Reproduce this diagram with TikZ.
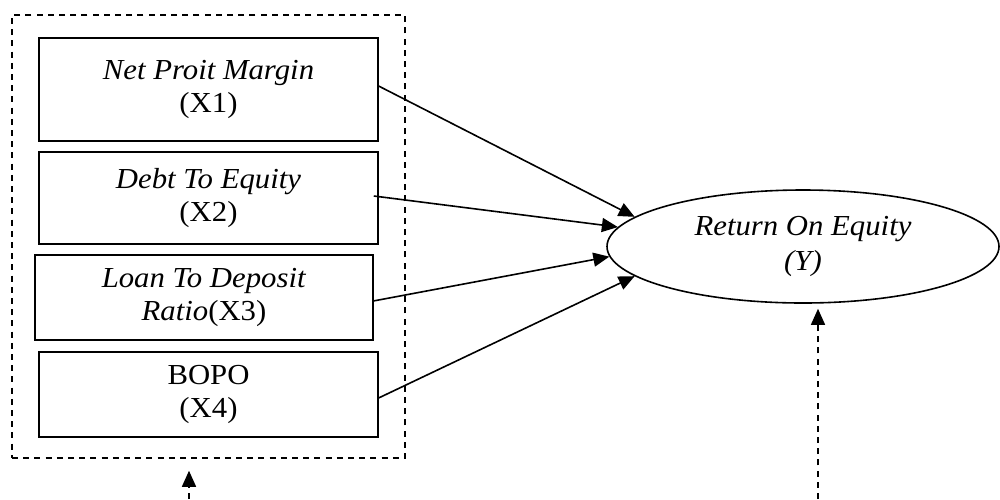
\documentclass[tikz,border=0pt]{standalone}
\usepackage{fontspec}
\setmainfont[FakeStretch=1.06]{Liberation Serif}
\usetikzlibrary{arrows.meta,shapes.geometric}

\begin{document}
\begin{tikzpicture}[x=0.5pt,y=-0.5pt,
    font=\fontsize{14.5}{16.5}\selectfont,
    varbox/.style={draw,line width=0.8pt,align=center,inner sep=0pt,minimum width=169.5pt},
    tip/.style={-{Triangle[length=8pt,width=7pt]},line width=0.8pt},
    dashline/.style={line width=0.75pt,dash pattern=on 3pt off 2.6pt}]
\useasboundingbox (0,0) rectangle (1000,499);

\node[dashline,draw,minimum width=196.5pt,minimum height=221.5pt,inner sep=0pt] (frame) at (208.5,236.5) {};

\node[varbox,minimum height=51.5pt] (X1) at (208.5,89.5) {\textit{Net Proit Margin}\\(X1)};
\node[varbox,minimum height=46pt] (X2) at (208.5,198) {\textit{Debt To Equity}\\(X2)};
\node[varbox,minimum width=169pt,minimum height=42.5pt] (X3) at (204,297.5) {\textit{Loan To Deposit}\\\textit{Ratio}(X3)};
\node[varbox,minimum height=42.5pt] (X4) at (208.5,394.5) {BOPO\\(X4)};

\node[ellipse,draw,line width=0.8pt,inner sep=0pt,minimum width=196pt,minimum height=56.5pt,align=center,font=\fontsize{14.5}{17.5}\selectfont] (Y) at (803,246.5) {\textit{Return On Equity}\\\textit{(Y)}};

\coordinate (e1) at (189,499);
\coordinate (e2) at (818,499);

\path [tip]
    ([yshift=1.7pt]X1.east) edge (Y.170)
    ([xshift=-2.5pt,yshift=1pt]X2.east) edge (Y.174)
    ([yshift=-1.7pt]X3.east) edge (Y.183.6)
    ([yshift=-1.7pt]X4.east) edge (Y.190);

\draw [tip,dashline,shorten >=6pt] (e1) -- (frame.south -| e1);
\draw [tip,dashline,shorten >=2.5pt] (e2) -- (Y.south -| e2);
\end{tikzpicture}
\end{document}
